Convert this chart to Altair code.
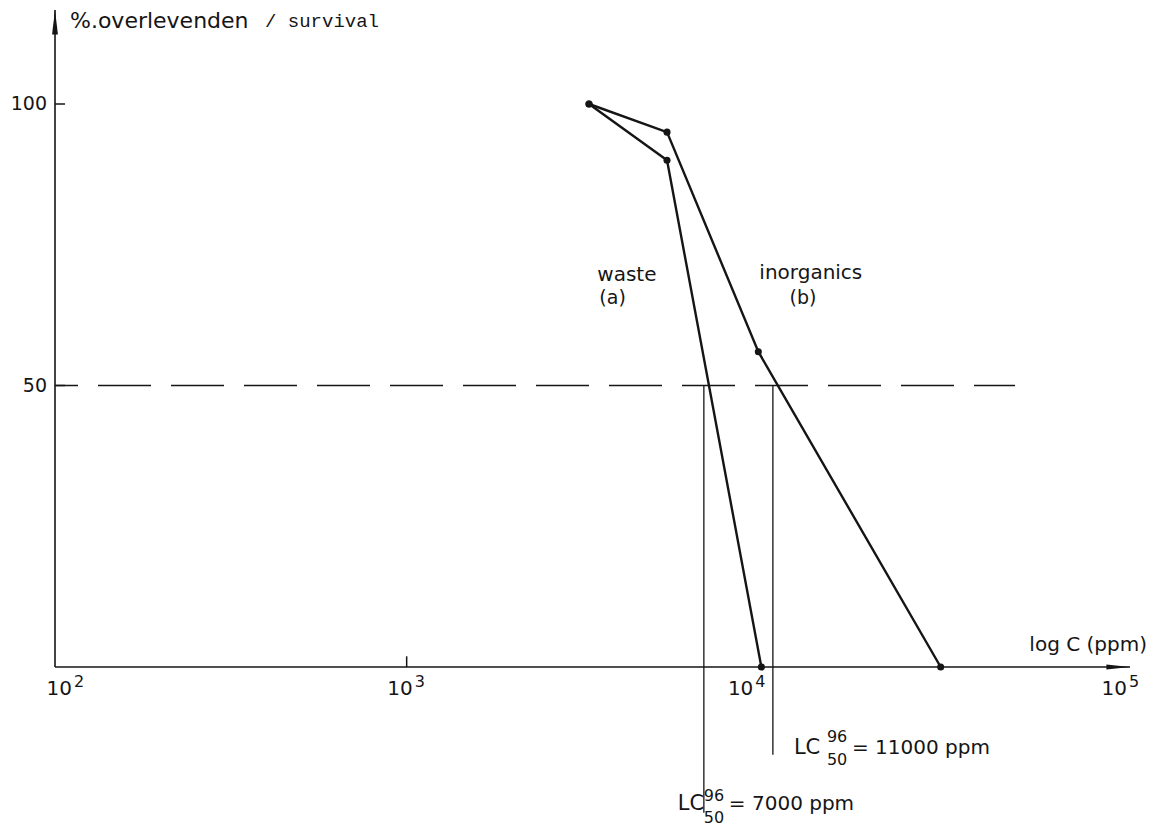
import altair as alt
import pandas as pd

# Survival (%) after 96 h against concentration (ppm)
waste_conc = [3300, 5500, 10200]
waste_pct = [100, 90, 0]
inorg_conc = [3300, 5500, 10000, 33000]
inorg_pct = [100, 95, 56, 0]

# LC50 read-off values and how far below the axis each read-off line runs
lc50_conc = [7000, 11000]
lc50_drop = [-25.9, -15.6]

# Axis ticks and labels (powers of ten)
x_ticks = [100, 1000, 10000, 100000]
x_tick_exponents = ["2", "3", "4", "5"]
y_ticks = [50, 100]

# Axis extents (data units) and the 50 % reference level
x_axis_end = 114000
y_axis_end = 116.7
half_level = 50
half_line_end = 53700

INK = "#151515"
SANS = "DejaVu Sans"
MONO = "Liberation Mono"

x_scale = alt.Scale(type="log", domain=[100, 100000], range=[55, 1110])
y_scale = alt.Scale(domain=[0, 100], range=[667, 104])


def X(f="x"):
    return alt.X(f"{f}:Q", scale=x_scale, axis=None)


def Y(f="y"):
    return alt.Y(f"{f}:Q", scale=y_scale, axis=None)


def text_at(x, y, t, dx=0, dy=0, size=20, font=SANS, align="left", baseline="middle"):
    return alt.Chart(pd.DataFrame({"x": [x], "y": [y], "t": [t]})).mark_text(
        align=align, baseline=baseline, dx=dx, dy=dy, font=font, fontSize=size, color=INK
    ).encode(x=X(), y=Y(), text="t:N")


curves = pd.DataFrame(
    {
        "series": ["waste"] * len(waste_conc) + ["inorganics"] * len(inorg_conc),
        "x": waste_conc + inorg_conc,
        "y": waste_pct + inorg_pct,
    }
)

lines = alt.Chart(curves).mark_line(color=INK, strokeWidth=2.4).encode(
    x=X(), y=Y(), detail="series:N"
)
dots = alt.Chart(curves).mark_circle(color=INK, size=50, opacity=1).encode(x=X(), y=Y())

# Axis lines
axes_df = pd.DataFrame(
    {"x": [100, 100], "x2": [x_axis_end, 100], "y": [0, 0], "y2": [0, y_axis_end]}
)
axes = alt.Chart(axes_df).mark_rule(color=INK, strokeWidth=1.6).encode(
    x=X(), x2="x2:Q", y=Y(), y2="y2:Q"
)

# Slim arrowheads at the axis ends (tip of each path sits on the point)
arrow_x = alt.Chart(pd.DataFrame({"x": [x_axis_end], "y": [0]})).mark_point(
    shape="M0,0L-2,-0.22L-2,0.22Z", size=560, filled=True, color=INK, opacity=1
).encode(x=X(), y=Y())
arrow_y = alt.Chart(pd.DataFrame({"x": [100], "y": [y_axis_end]})).mark_point(
    shape="M0,0L-0.24,2L0.24,2Z", size=600, filled=True, color=INK, opacity=1
).encode(x=X(), y=Y())

# Tick marks
ytick_df = pd.DataFrame({"x": [100] * len(y_ticks), "x2": [106.8] * len(y_ticks), "y": y_ticks})
yticks = alt.Chart(ytick_df).mark_rule(color=INK, strokeWidth=1.5).encode(
    x=X(), x2="x2:Q", y=Y()
)
xtick_df = pd.DataFrame({"x": [1000], "y": [0], "y2": [1.9]})
xticks = alt.Chart(xtick_df).mark_rule(color=INK, strokeWidth=1.5).encode(
    x=X(), y=Y(), y2="y2:Q"
)

# Tick labels
ylabels = alt.Chart(
    pd.DataFrame({"x": [100] * len(y_ticks), "y": y_ticks, "t": [str(v) for v in y_ticks]})
).mark_text(
    align="right", baseline="middle", dx=-8, font=SANS, fontSize=19, color=INK
).encode(x=X(), y=Y(), text="t:N")

# "10" plus a raised exponent, nudged sideways per tick as lettered
x_label_nudge = [17, 6, -5, 17]
xlabel_layers = []
for v, e, nudge in zip(x_ticks, x_tick_exponents, x_label_nudge):
    xlabel_layers.append(
        text_at(v, 0, "10", dx=nudge, dy=28, size=20, align="right", baseline="alphabetic")
    )
    xlabel_layers.append(
        text_at(v, 0, e, dx=nudge + 2, dy=20, size=16, align="left", baseline="alphabetic")
    )

# 50 % dashed reference line
half_df = pd.DataFrame({"x": [100], "x2": [half_line_end], "y": [half_level]})
half_line = alt.Chart(half_df).mark_rule(
    color=INK, strokeWidth=1.4, strokeDash=[53, 20], strokeDashOffset=30
).encode(x=X(), x2="x2:Q", y=Y())

# LC50 read-off lines
lc_df = pd.DataFrame({"x": lc50_conc, "y": [half_level] * 2, "y2": lc50_drop})
lc_lines = alt.Chart(lc_df).mark_rule(color=INK, strokeWidth=1.3).encode(
    x=X(), y=Y(), y2="y2:Q"
)

# LC50 labels: LC with 96 (hours) above and 50 (%) below
lc_label_layout = [
    # (dx of "LC", y of "LC", dx of indices, y of 96, y of 50, dx of value)
    (-26, -24.4, 0, -23.0, -26.8, 25),
    (21, -14.3, 54, -12.4, -16.6, 79),
]
lc_labels = []
for conc, (dx_lc, y_lc, dx_idx, y_hi, y_lo, dx_val) in zip(lc50_conc, lc_label_layout):
    lc_labels += [
        text_at(conc, y_lc, "LC", dx=dx_lc, size=21),
        text_at(conc, y_hi, "96", dx=dx_idx, size=16),
        text_at(conc, y_lo, "50", dx=dx_idx, size=16),
        text_at(conc, y_lc, f"= {conc} ppm", dx=dx_val, size=20),
    ]

# Curve names
names = [
    text_at(4230, 69.6, "waste", align="center", size=20),
    text_at(3850, 65.5, "(a)", align="center", size=19),
    text_at(14100, 70.0, "inorganics", align="center", size=20),
    text_at(13400, 65.6, "(b)", align="center", size=19),
]

# Axis titles
titles = [
    text_at(100, y_axis_end, "%.overlevenden", dx=15, dy=11, size=22),
    text_at(100, y_axis_end, "/ survival", dx=210, dy=11, size=19, font=MONO),
    text_at(x_axis_end, 0, "log C (ppm)", align="right", dx=17, dy=-22, size=20),
]

chart = alt.layer(
    half_line,
    lc_lines,
    axes,
    yticks,
    xticks,
    arrow_x,
    arrow_y,
    lines,
    dots,
    ylabels,
    *xlabel_layers,
    *lc_labels,
    *names,
    *titles,
).properties(
    width=1154,
    height=827,
    autosize=alt.AutoSizeParams(type="none"),
    padding=0,
    background="white",
).configure_view(stroke=None)

chart.save("out.html", embed_options={"renderer": "svg", "actions": False})
